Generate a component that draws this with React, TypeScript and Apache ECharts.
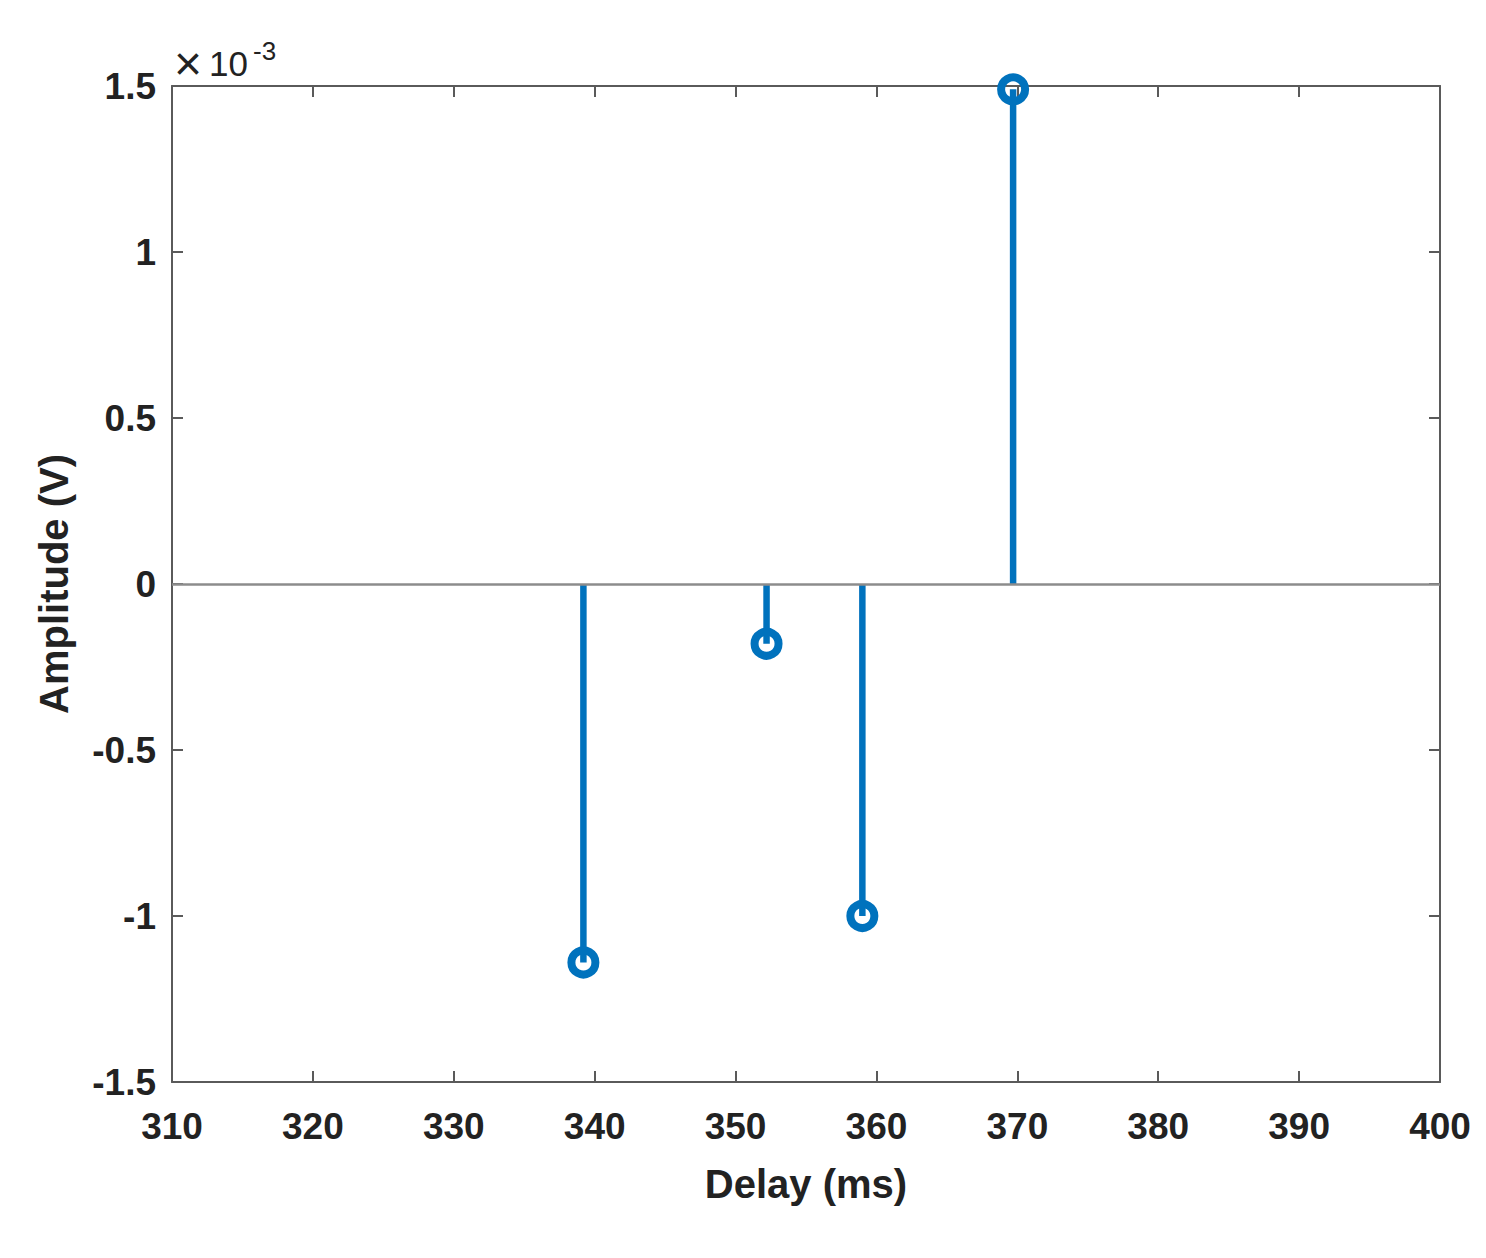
import { useEffect, useRef } from 'react'
import * as echarts from 'echarts'

// stem data (amplitude in units of 1e-3 V)
const delays = [339.2, 352.2, 359.0, 369.7]
const amplitudes = [-1.14, -0.18, -1.0, 1.49]

const xTicks = { min: 310, max: 400, interval: 10 }
const yTicks = { min: -1.5, max: 1.5, interval: 0.5 }

const BLUE = '#0072BD'
const AXIS = '#5a5a5a'
const FONT = '"Liberation Sans", Arial, sans-serif'

export default function App() {
  const chartRef = useRef<HTMLDivElement>(null)

  useEffect(() => {
    document.body.style.margin = '0'
    if (!chartRef.current) return

    const chart = echarts.init(chartRef.current, null, { renderer: 'svg' })

    const axisLine = { show: true, lineStyle: { color: AXIS, width: 2 } }
    const axisTick = { show: true, inside: true, length: 11, lineStyle: { color: AXIS, width: 2 } }
    const tickLabel = { color: '#222', fontSize: 37, fontWeight: 'bold' as const, fontFamily: FONT }

    const option: any = {
      animation: false,
      backgroundColor: '#fff',
      grid: { left: 172, right: 46, top: 86, bottom: 176 },
      xAxis: [
        {
          type: 'value',
          ...xTicks,
          position: 'bottom',
          axisLine: { ...axisLine, onZero: false },
          axisTick,
          splitLine: { show: false },
          axisLabel: { ...tickLabel, margin: 26 },
          name: 'Delay (ms)',
          nameLocation: 'middle',
          nameGap: 82,
          nameTextStyle: { color: '#222', fontSize: 40, fontWeight: 'bold', fontFamily: FONT },
        },
        {
          type: 'value',
          ...xTicks,
          position: 'top',
          axisLine: { ...axisLine, onZero: false },
          axisTick,
          splitLine: { show: false },
          axisLabel: { show: false },
        },
      ],
      yAxis: [
        {
          type: 'value',
          ...yTicks,
          position: 'left',
          axisLine: { ...axisLine, onZero: false },
          axisTick,
          splitLine: { show: false },
          axisLabel: { ...tickLabel, margin: 16, formatter: (v: number) => String(Math.round(v * 10) / 10) },
          name: 'Amplitude (V)',
          nameLocation: 'middle',
          nameGap: 98,
          nameTextStyle: { color: '#222', fontSize: 40, fontWeight: 'bold', fontFamily: FONT },
        },
        {
          type: 'value',
          ...yTicks,
          position: 'right',
          axisLine: { ...axisLine, onZero: false },
          axisTick,
          splitLine: { show: false },
          axisLabel: { show: false },
        },
      ],
      graphic: [
        {
          type: 'text',
          left: 174,
          top: 39,
          style: { text: '×', fontSize: 48, fontFamily: FONT, fill: '#222' },
        },
        {
          type: 'text',
          left: 209,
          top: 46,
          style: { text: '10', fontSize: 35, fontFamily: FONT, fill: '#222' },
        },
        {
          type: 'text',
          left: 253,
          top: 38,
          style: { text: '-3', fontSize: 26, fontFamily: FONT, fill: '#222' },
        },
      ],
      series: [
        {
          type: 'line',
          data: [],
          markLine: {
            silent: true,
            symbol: ['none', 'none'],
            label: { show: false },
            lineStyle: { color: '#8c8c8c', width: 2.5, type: 'solid' },
            data: [{ yAxis: 0 }],
          },
        },
        {
          type: 'custom',
          clip: false,
          data: delays.map((d, i) => [d, amplitudes[i]]),
          renderItem: (_params: any, api: any) => {
            const tip = api.coord([api.value(0), api.value(1)])
            const base = api.coord([api.value(0), 0])
            return {
              type: 'group',
              children: [
                {
                  type: 'line',
                  shape: { x1: base[0], y1: base[1], x2: tip[0], y2: tip[1] },
                  style: { stroke: BLUE, lineWidth: 6.5 },
                },
                {
                  type: 'circle',
                  shape: { cx: tip[0], cy: tip[1], r: 12 },
                  style: { fill: 'none', stroke: BLUE, lineWidth: 8 },
                },
              ],
            }
          },
        },
      ],
    }

    chart.setOption(option)

    return () => {
      chart.dispose()
    }
  }, [])

  return <div ref={chartRef} style={{ width: '1486px', height: '1258px' }} />
}
